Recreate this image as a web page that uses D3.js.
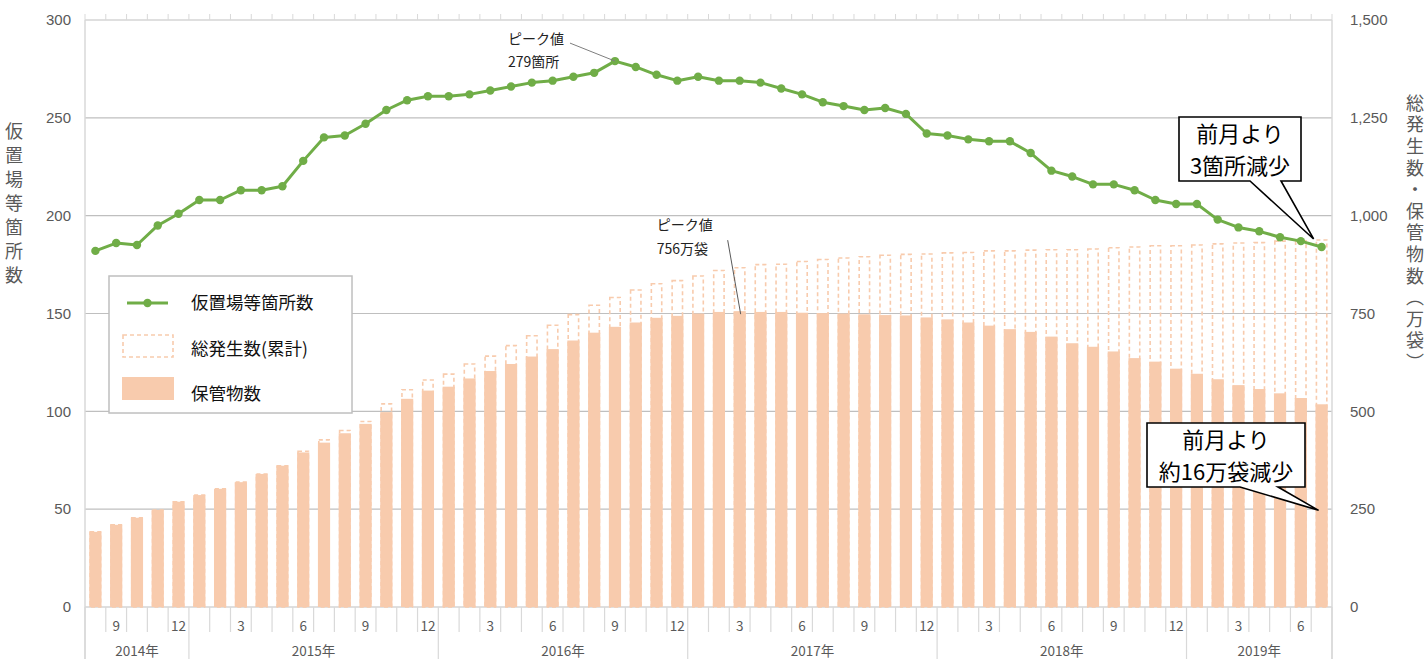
<!DOCTYPE html>
<html>
<head>
<meta charset="utf-8">
<script src="https://cdn.jsdelivr.net/npm/d3@7"></script>
<style>
  body { margin: 0; background: #fff; }
  text { font-family: "Noto Sans CJK JP", "Noto Sans", sans-serif; }
  .num { font-family: "Liberation Sans", Arial, sans-serif; }
</style>
</head>
<body>
<svg id="chart" width="1428" height="659"></svg>
<script>
// months Aug 2014 .. Jul 2019
var months = d3.timeMonth.range(new Date(2014, 7, 1), new Date(2019, 7, 1));

// 仮置場等箇所数 (left axis)
var sites = [182, 186, 185, 195, 201, 208, 208, 213, 213, 215,
             228, 240, 241, 247, 254, 259, 261, 261, 262, 264,
             266, 268, 269, 271, 273, 279, 276, 272, 269, 271,
             269, 269, 268, 265, 262, 258, 256, 254, 255, 252,
             242, 241, 239, 238, 238, 232, 223, 220, 216, 216,
             213, 208, 206, 206, 198, 194, 192, 189, 187, 184];

// 保管物数 (万袋, right axis)
var stored = [192, 210, 228, 248, 269, 286, 302, 319, 340, 361,
              395, 420, 444, 468, 498, 532, 553, 563, 584, 603,
              621, 640, 659, 681, 701, 716, 727, 739, 744, 750,
              754, 756, 754, 754, 752, 751, 750, 748, 746, 745,
              740, 735, 727, 719, 710, 703, 691, 674, 665, 653,
              636, 627, 609, 596, 582, 567, 557, 546, 534, 518];

// 総発生数(累計) (万袋, right axis)
var total = [192, 210, 228, 248, 269, 286, 302, 319, 340, 361,
             398, 427, 451, 474, 519, 555, 580, 595, 621, 641,
             668, 693, 720, 747, 771, 791, 810, 826, 834, 846,
             860, 867, 875, 876, 883, 888, 892, 895, 899, 901,
             902, 905, 906, 910, 910, 912, 913, 913, 915, 918,
             920, 923, 923, 925, 928, 930, 931, 935, 936, 938];

var leftTicks = [0, 50, 100, 150, 200, 250, 300];
var rightTicks = [0, 250, 500, 750, 1000, 1250, 1500];
var monthTicks = [3, 6, 9, 12];
var seriesNames = ["仮置場等箇所数", "総発生数(累計)", "保管物数"];

var green = "#70ad47", peach = "#f8cbad", grid = "#bfbfbf", label = "#595959";
var plotL = 85, plotR = 1332, plotT = 20, plotB = 607;

var svg = d3.select("#chart");

var x = d3.scaleBand().domain(d3.range(months.length)).range([plotL, plotR])
          .paddingInner(0.5).paddingOuter(0.25);
var yL = d3.scaleLinear().domain([0, 300]).range([plotB, plotT]);
var yR = d3.scaleLinear().domain([0, 1500]).range([plotB, plotT]);
var step = x.step(), bw = x.bandwidth();
function cx(i) { return x(i) + bw / 2; }

// gridlines
svg.append("g").selectAll("line").data(leftTicks).enter().append("line")
   .attr("x1", plotL).attr("x2", plotR)
   .attr("y1", function(d) { return yL(d); }).attr("y2", function(d) { return yL(d); })
   .attr("stroke", grid).attr("stroke-width", 1.2);

// left / right axis lines
svg.append("line").attr("x1", plotL).attr("x2", plotL).attr("y1", plotT).attr("y2", 659)
   .attr("stroke", "#d9d9d9").attr("stroke-width", 1.5);
svg.append("line").attr("x1", plotR).attr("x2", plotR).attr("y1", plotT).attr("y2", 659)
   .attr("stroke", "#d9d9d9").attr("stroke-width", 1.5);

// category tick marks (bottom and top)
var bounds = d3.range(months.length + 1);
svg.append("g").selectAll("line").data(bounds).enter().append("line")
   .attr("x1", function(i) { return plotL + i * step; })
   .attr("x2", function(i) { return plotL + i * step; })
   .attr("y1", plotB)
   .attr("y2", function(i) { return (i == 0 || i == months.length || months[i].getMonth() == 0) ? 659 : 632; })
   .attr("stroke", "#d9d9d9").attr("stroke-width", 1.2);
svg.append("g").selectAll("line").data(bounds).enter().append("line")
   .attr("x1", function(i) { return plotL + i * step; })
   .attr("x2", function(i) { return plotL + i * step; })
   .attr("y1", plotT - 6).attr("y2", plotT)
   .attr("stroke", "#d9d9d9").attr("stroke-width", 1);

// bars: dashed total behind, solid stored in front
svg.append("g").selectAll("rect").data(total).enter().append("rect")
   .attr("x", function(d, i) { return x(i); })
   .attr("width", bw)
   .attr("y", function(d) { return yR(d); })
   .attr("height", function(d) { return plotB - yR(d); })
   .attr("fill", "none").attr("stroke", peach).attr("stroke-width", 1.6)
   .attr("stroke-dasharray", "4,3");
svg.append("g").selectAll("rect").data(stored).enter().append("rect")
   .attr("x", function(d, i) { return x(i) - 0.9; })
   .attr("width", bw + 1.8)
   .attr("y", function(d) { return yR(d); })
   .attr("height", function(d) { return plotB - yR(d); })
   .attr("fill", peach);

// line
var line = d3.line().x(function(d, i) { return cx(i); }).y(function(d) { return yL(d); });
svg.append("path").datum(sites).attr("d", line)
   .attr("fill", "none").attr("stroke", green).attr("stroke-width", 3).attr("stroke-linejoin", "round");
svg.append("g").selectAll("circle").data(sites).enter().append("circle")
   .attr("cx", function(d, i) { return cx(i); })
   .attr("cy", function(d) { return yL(d); })
   .attr("r", 4.2).attr("fill", green);

// axis labels
svg.append("g").selectAll("text").data(leftTicks).enter().append("text")
   .attr("class", "num").attr("x", 71).attr("y", function(d) { return yL(d); })
   .attr("dy", "0.35em").attr("text-anchor", "end")
   .attr("font-size", 15).attr("fill", label).text(function(d) { return d; });
svg.append("g").selectAll("text").data(rightTicks).enter().append("text")
   .attr("class", "num").attr("x", 1350).attr("y", function(d) { return yR(d); })
   .attr("dy", "0.35em").attr("font-size", 15).attr("fill", label)
   .text(function(d) { return d3.format(",")(d); });

var monthIdx = d3.range(months.length).filter(function(i) {
  return monthTicks.indexOf(months[i].getMonth() + 1) >= 0;
});
svg.append("g").selectAll("text").data(monthIdx).enter().append("text")
   .attr("x", function(i) { return plotL + (i + 0.5) * step; })
   .attr("y", 626).attr("dy", "0.35em").attr("text-anchor", "middle")
   .attr("font-size", 13.5).attr("fill", label)
   .text(function(i) { return months[i].getMonth() + 1; });

var years = d3.groups(d3.range(months.length), function(i) { return months[i].getFullYear(); });
svg.append("g").selectAll("text").data(years).enter().append("text")
   .attr("x", function(g) { return plotL + (g[1][0] + g[1][g[1].length - 1] + 1) / 2 * step; })
   .attr("y", 651).attr("dy", "0.35em").attr("text-anchor", "middle")
   .attr("font-size", 13.5).attr("fill", label)
   .text(function(g) { return g[0] + "年"; });

// axis titles (vertical)
svg.append("text").attr("x", 14).attr("y", 122)
   .style("writing-mode", "vertical-rl").attr("letter-spacing", 6)
   .attr("font-size", 18).attr("fill", label).text("仮置場等箇所数");
svg.append("text").attr("x", 1415).attr("y", 94)
   .style("writing-mode", "vertical-rl").attr("letter-spacing", 3.6)
   .attr("font-size", 18).attr("fill", label).text("総発生数・保管物数（万袋）");

// legend
var lg = svg.append("g");
lg.append("rect").attr("x", 109).attr("y", 276).attr("width", 243).attr("height", 137)
  .attr("fill", "#fff").attr("stroke", grid).attr("stroke-width", 1.5);
lg.append("line").attr("x1", 127).attr("x2", 168).attr("y1", 303).attr("y2", 303)
  .attr("stroke", green).attr("stroke-width", 3);
lg.append("circle").attr("cx", 147.5).attr("cy", 303).attr("r", 4.2).attr("fill", green);
lg.append("rect").attr("x", 123).attr("y", 335).attr("width", 50).attr("height", 22)
  .attr("fill", "none").attr("stroke", peach).attr("stroke-width", 1.6).attr("stroke-dasharray", "4,3");
lg.append("rect").attr("x", 122).attr("y", 377).attr("width", 52).attr("height", 23).attr("fill", peach);
lg.selectAll("text.item").data(seriesNames).enter().append("text")
  .attr("x", 191).attr("y", function(d, i) { return 303 + i * 45.5; })
  .attr("dy", "0.35em").attr("font-size", 17.5).attr("fill", "#111")
  .text(function(d) { return d; });

// peak annotations
var pk1 = d3.maxIndex(sites);
var p1x = cx(pk1), p1y = yL(sites[pk1]);
svg.append("line").attr("x1", p1x - 45).attr("y1", p1y - 18).attr("x2", p1x).attr("y2", p1y)
   .attr("stroke", "#7f7f7f").attr("stroke-width", 1);
svg.append("text").attr("x", p1x - 107).attr("y", p1y - 22).attr("dy", "0.35em")
   .attr("font-size", 14).attr("fill", "#222").text("ピーク値");
svg.append("text").attr("x", p1x - 107).attr("y", p1y + 1).attr("dy", "0.35em")
   .attr("font-size", 14).attr("fill", "#222").text(sites[pk1] + "箇所");

var pk2 = d3.maxIndex(stored);
var p2x = cx(pk2), p2y = yR(stored[pk2]);
svg.append("line").attr("x1", p2x - 12).attr("y1", p2y - 71).attr("x2", p2x + 1).attr("y2", p2y + 3)
   .attr("stroke", "#595959").attr("stroke-width", 1);
svg.append("text").attr("x", p2x - 83).attr("y", p2y - 86).attr("dy", "0.35em")
   .attr("font-size", 14).attr("fill", "#222").text("ピーク値");
svg.append("text").attr("x", p2x - 83).attr("y", p2y - 62).attr("dy", "0.35em")
   .attr("font-size", 14).attr("fill", "#222").text(stored[pk2] + "万袋");

// callouts
function callout(x0, y0, x1, y1, tl, tr, tip, lines) {
  var g = svg.append("g");
  var p = d3.path();
  p.moveTo(x0, y0); p.lineTo(x1, y0); p.lineTo(x1, y1);
  p.lineTo(tr, y1); p.lineTo(tip[0], tip[1]); p.lineTo(tl, y1);
  p.lineTo(x0, y1); p.closePath();
  g.append("path").attr("d", p.toString()).attr("fill", "#fff")
   .attr("stroke", "#000").attr("stroke-width", 1.6).attr("stroke-linejoin", "miter");
  var h = (y1 - y0) / lines.length;
  g.selectAll("text").data(lines).enter().append("text")
   .attr("x", (x0 + x1) / 2).attr("y", function(d, i) { return y0 + h * (i + 0.5) + 1; })
   .attr("dy", "0.35em").attr("text-anchor", "middle")
   .attr("font-size", 22).attr("fill", "#000").text(function(d) { return d; });
}
var last = months.length - 1;
callout(1179, 117, 1301, 181, 1250, 1281, [cx(last) - 8, yL(sites[last]) - 8],
        ["前月より", (sites[last - 1] - sites[last]) + "箇所減少"]);
callout(1147, 423, 1305, 487, 1240, 1278, [cx(last) - 3, yR(247)],
        ["前月より", "約" + (stored[last - 1] - stored[last]) + "万袋減少"]);
</script>
</body>
</html>
